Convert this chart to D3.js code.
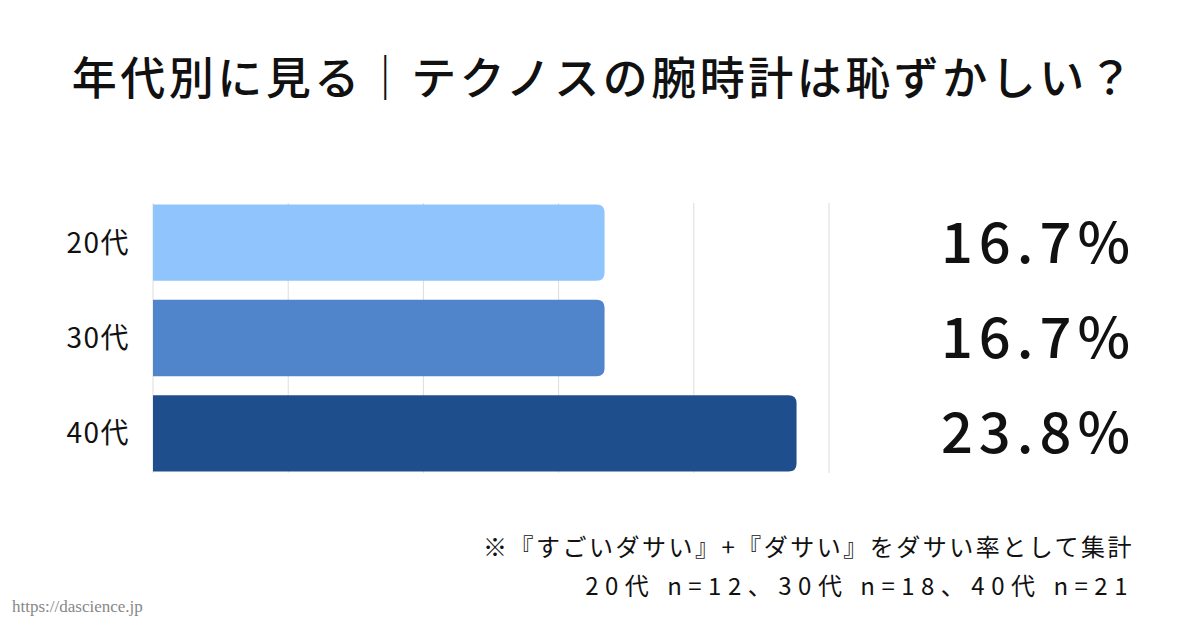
<!DOCTYPE html>
<html><head><meta charset="utf-8">
<script src="https://cdn.jsdelivr.net/npm/d3@7"></script>
<style>body{margin:0;background:#fff}</style>
</head><body>
<script>
const categories = ['20代', '30代', '40代'];
const values = [16.7, 16.7, 23.8];
const colors = ['#90C4FC', '#5085CC', '#1F4E8C'];
const gridTicks = [0, 5, 10, 15, 20, 25];
const notes = ['※『すごいダサい』+『ダサい』をダサい率として集計', '20代 n=12、30代 n=18、40代 n=21'];

const svg = d3.select('body').append('svg').attr('width', 1200).attr('height', 630)
  .style('font-family', '"Noto Sans CJK JP", "Noto Sans", sans-serif');

svg.append('text').attr('x', 604).attr('y', 95).attr('text-anchor', 'middle')
  .attr('font-size', 45).attr('font-weight', 500).attr('letter-spacing', 3.5).attr('fill', '#111')
  .text('年代別に見る｜テクノスの腕時計は恥ずかしい？');

const x = d3.scaleLinear().domain([0, 25]).range([153, 829]);
const y = d3.scaleBand().domain(categories).range([195, 481]).paddingInner(0.2).paddingOuter(0.1);

svg.selectAll('line.grid').data(gridTicks).enter().append('line')
  .attr('x1', d => x(d)).attr('x2', d => x(d)).attr('y1', 203).attr('y2', 473)
  .attr('stroke', '#ddd').attr('stroke-width', 1);

const r = 8;
svg.selectAll('path.bar').data(values).enter().append('path')
  .attr('fill', (d, i) => colors[i])
  .attr('d', (d, i) => {
    const x0 = x(0), x1 = x(d), y0 = y(categories[i]), h = y.bandwidth();
    return `M${x0},${y0}H${x1 - r}Q${x1},${y0} ${x1},${y0 + r}V${y0 + h - r}Q${x1},${y0 + h} ${x1 - r},${y0 + h}H${x0}Z`;
  });

svg.selectAll('text.cat').data(categories).enter().append('text')
  .attr('x', 130).attr('y', d => y(d) + y.bandwidth() / 2 + 10).attr('text-anchor', 'end')
  .attr('font-size', 28).attr('letter-spacing', 1.5).attr('fill', '#111').text(d => d);

svg.selectAll('text.val').data(values).enter().append('text')
  .attr('x', 1136).attr('y', (d, i) => y(categories[i]) + y.bandwidth() / 2 + 20).attr('text-anchor', 'end')
  .attr('font-size', 56).attr('font-weight', 500).attr('letter-spacing', 6).attr('fill', '#111')
  .text(d => d.toFixed(1) + '%');

svg.selectAll('text.note').data(notes).enter().append('text')
  .attr('x', 1134).attr('y', (d, i) => 556 + i * 39).attr('text-anchor', 'end')
  .attr('font-size', 24).attr('letter-spacing', (d, i) => i ? 6.5 : 2.5).attr('fill', '#111').text(d => d);

svg.append('text').attr('x', 12).attr('y', 612).attr('font-size', 17)
  .attr('font-family', '"Liberation Serif", serif').attr('fill', '#888')
  .text('https://dascience.jp');
</script>
</body></html>
